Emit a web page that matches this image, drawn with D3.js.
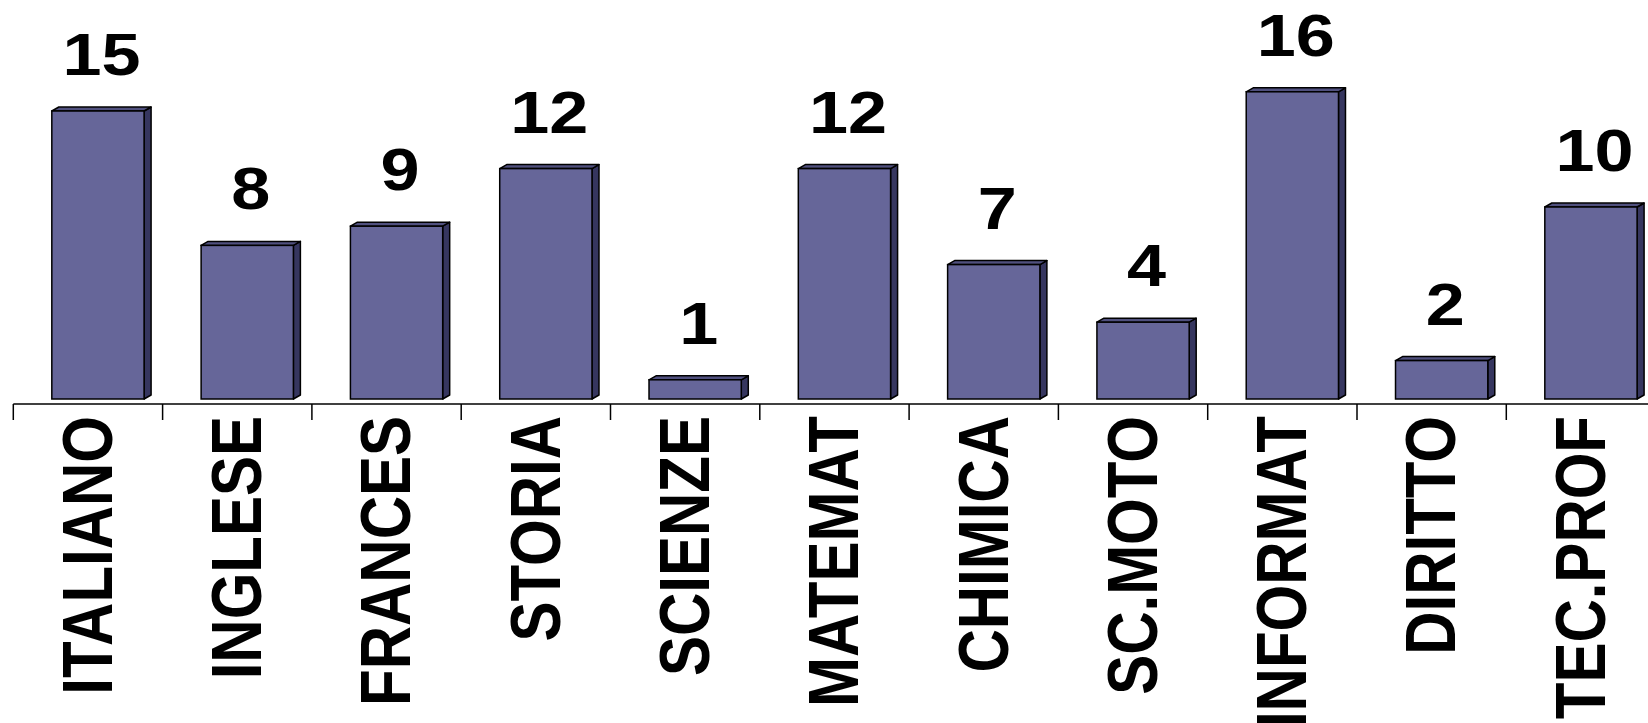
<!DOCTYPE html>
<html>
<head>
<meta charset="utf-8">
<script src="https://cdn.jsdelivr.net/npm/d3@7/dist/d3.min.js"></script>
<style>
  html, body { margin: 0; padding: 0; background: #ffffff; }
  svg { display: block; }
  text { font-family: "Liberation Sans", Arial, sans-serif; font-weight: bold; fill: #000; }
</style>
</head>
<body>
<svg id="chart" width="1648" height="723"></svg>
<script>
const categories = ["ITALIANO", "INGLESE", "FRANCES", "STORIA", "SCIENZE", "MATEMAT", "CHIMICA", "SC.MOTO", "INFORMAT", "DIRITTO", "TEC.PROF"];
const values = [15, 8, 9, 12, 1, 12, 7, 4, 16, 2, 10];

const W = 1648, H = 723;
const svg = d3.select("#chart");
svg.append("rect").attr("width", W).attr("height", H).attr("fill", "#ffffff");

const axisY = 404;
const baseY = 399;
const step = 149.3;
const x0 = 13.3;

const x = d3.scaleBand()
  .domain(categories)
  .range([x0, x0 + step * categories.length])
  .padding(0);

const y = d3.scaleLinear().domain([0, 20]).range([baseY, baseY - 20 * 19.2]);

const frontOff = step * 0.258;
const frontW = step * 0.618;
const dx = 7, dy = 4;
const stretch = 1.17;

const data = categories.map((c, i) => ({ c, v: values[i] }));

const bars = svg.append("g").selectAll("g").data(data).join("g");

// side face
bars.append("path")
  .attr("d", d => {
    const xr = x(d.c) + frontOff + frontW;
    const yt = y(d.v), yb = y(0);
    return `M${xr},${yt} L${xr + dx},${yt - dy} L${xr + dx},${yb - dy} L${xr},${yb} Z`;
  })
  .attr("fill", "#36365f").attr("stroke", "#000").attr("stroke-width", 1.5).attr("stroke-linejoin", "round");

// top face
bars.append("path")
  .attr("d", d => {
    const xl = x(d.c) + frontOff, xr = xl + frontW;
    const yt = y(d.v);
    return `M${xl},${yt} L${xl + dx},${yt - dy} L${xr + dx},${yt - dy} L${xr},${yt} Z`;
  })
  .attr("fill", "#50507e").attr("stroke", "#000").attr("stroke-width", 1.5).attr("stroke-linejoin", "round");

// front face
bars.append("rect")
  .attr("x", d => x(d.c) + frontOff)
  .attr("y", d => y(d.v))
  .attr("width", frontW)
  .attr("height", d => y(0) - y(d.v))
  .attr("fill", "#666699").attr("stroke", "#000").attr("stroke-width", 1.5);

// value labels
svg.append("g").selectAll("text").data(data).join("text")
  .attr("transform", d => `translate(${x(d.c) + frontOff + (frontW + dx) / 2},${y(d.v) - 36}) scale(${stretch},1)`)
  .attr("text-anchor", "middle")
  .attr("font-size", 60)
  .text(d => d.v);

// axis line and ticks
const axis = svg.append("g");
axis.append("line")
  .attr("x1", x0).attr("x2", W).attr("y1", axisY).attr("y2", axisY)
  .attr("stroke", "#000").attr("stroke-width", 1.5);
axis.selectAll("line.tick").data(categories).join("line")
  .attr("class", "tick")
  .attr("x1", d => x(d)).attr("x2", d => x(d))
  .attr("y1", axisY).attr("y2", axisY + 16)
  .attr("stroke", "#000").attr("stroke-width", 1.5);

// category labels
svg.append("g").selectAll("text").data(categories).join("text")
  .attr("transform", d => `translate(${x(d) + x.bandwidth() / 2 - 1.5},416) scale(${stretch},1) rotate(-90)`)
  .attr("text-anchor", "end")
  .attr("dy", "0.36em")
  .attr("font-size", 60)
  .text(d => d);
</script>
</body>
</html>
